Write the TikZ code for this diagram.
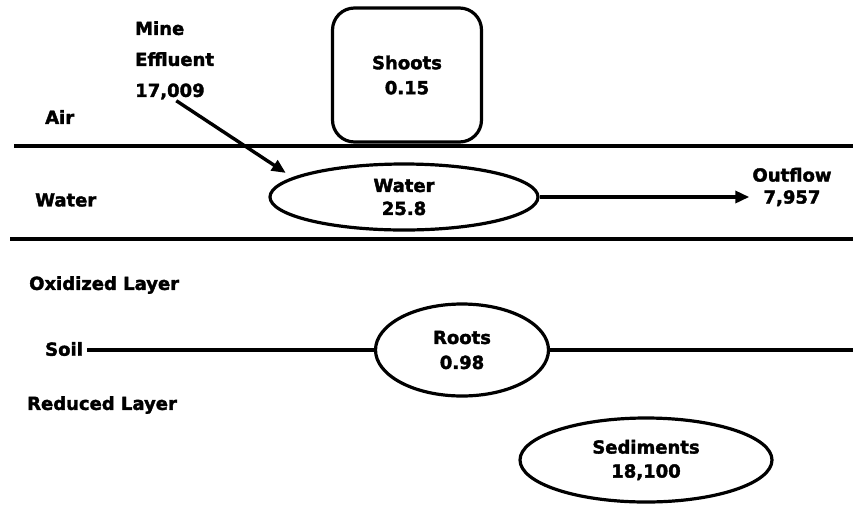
\documentclass[tikz,border=0pt]{standalone}
\usepackage{fontspec}
\setmainfont{DejaVu Sans}[BoldFeatures={FakeBold=2}]
\usetikzlibrary{shapes.geometric,arrows.meta}

\begin{document}
\begin{tikzpicture}[x=1pt,y=-1pt,
  lbl/.style={font=\bfseries\fontsize{18}{24}\selectfont, inner sep=0pt},
  pool/.style={ellipse, draw, line width=3.2pt, inner sep=0pt,
               font=\bfseries\fontsize{18}{24}\selectfont, align=center},
  boundary/.style={line width=3.2pt},
  flow/.style={line width=3.4pt, -{Triangle[length=14pt,width=12pt]}}
]
\useasboundingbox (0,0) rectangle (853,504);

% compartment boundaries
\coordinate (airL) at (14,146);
\coordinate (airR) at (853,146);
\coordinate (watL) at (10,239);
\coordinate (watR) at (853,239);
\draw[boundary] (airL) -- (airR);
\draw[boundary] (watL) -- (watR);

% zone labels
\node[lbl, anchor=west] (air)     at (45,117) {Air};
\node[lbl, anchor=west] (watlbl)  at (35,200) {Water};
\node[lbl, anchor=west] (oxid)    at (29,285) {Oxidized Layer};
\node[lbl, anchor=west] (soil)    at (45,349) {Soil};
\node[lbl, anchor=west] (reduced) at (27,405) {Reduced Layer};

% pools
\node[draw, line width=3.2pt, rounded corners=22pt, minimum width=149pt,
      minimum height=134pt, inner sep=0pt, align=center,
      font=\bfseries\fontsize{18}{25}\selectfont] (shoots) at (407,75) {Shoots\\0.15};
\node[pool, minimum width=268pt, minimum height=66pt,
      font=\bfseries\fontsize{18}{23}\selectfont] (water) at (404,197) {Water\\25.8};
\node[pool, minimum width=173pt, minimum height=92pt,
      font=\bfseries\fontsize{18}{25}\selectfont] (roots) at (462,350) {Roots\\0.98};
\node[pool, minimum width=252pt, minimum height=84pt] (sed) at (646,460) {Sediments\\18,100};

% inputs and outputs
\node[lbl, align=left, anchor=north west,
      font=\bfseries\fontsize{18}{31}\selectfont] (mine) at (135,21) {Mine\\Effluent\\17,009};
\node[lbl, align=center, font=\bfseries\fontsize{18}{22}\selectfont,
      inner xsep=3pt] (outflow) at (792,187) {Outflow\\7,957};

% flows
\draw[flow, shorten >=8pt, shorten <=2pt] (mine.south) -- (water.170);
\draw[flow] (water.east) -- (water.east -| outflow.west);

% soil line through the roots
\coordinate (soilR) at (853,350);
\draw[boundary] ([xshift=4pt]soil.east |- roots.west) -- (roots.west);
\draw[boundary] (roots.east) -- (soilR);
\end{tikzpicture}
\end{document}
